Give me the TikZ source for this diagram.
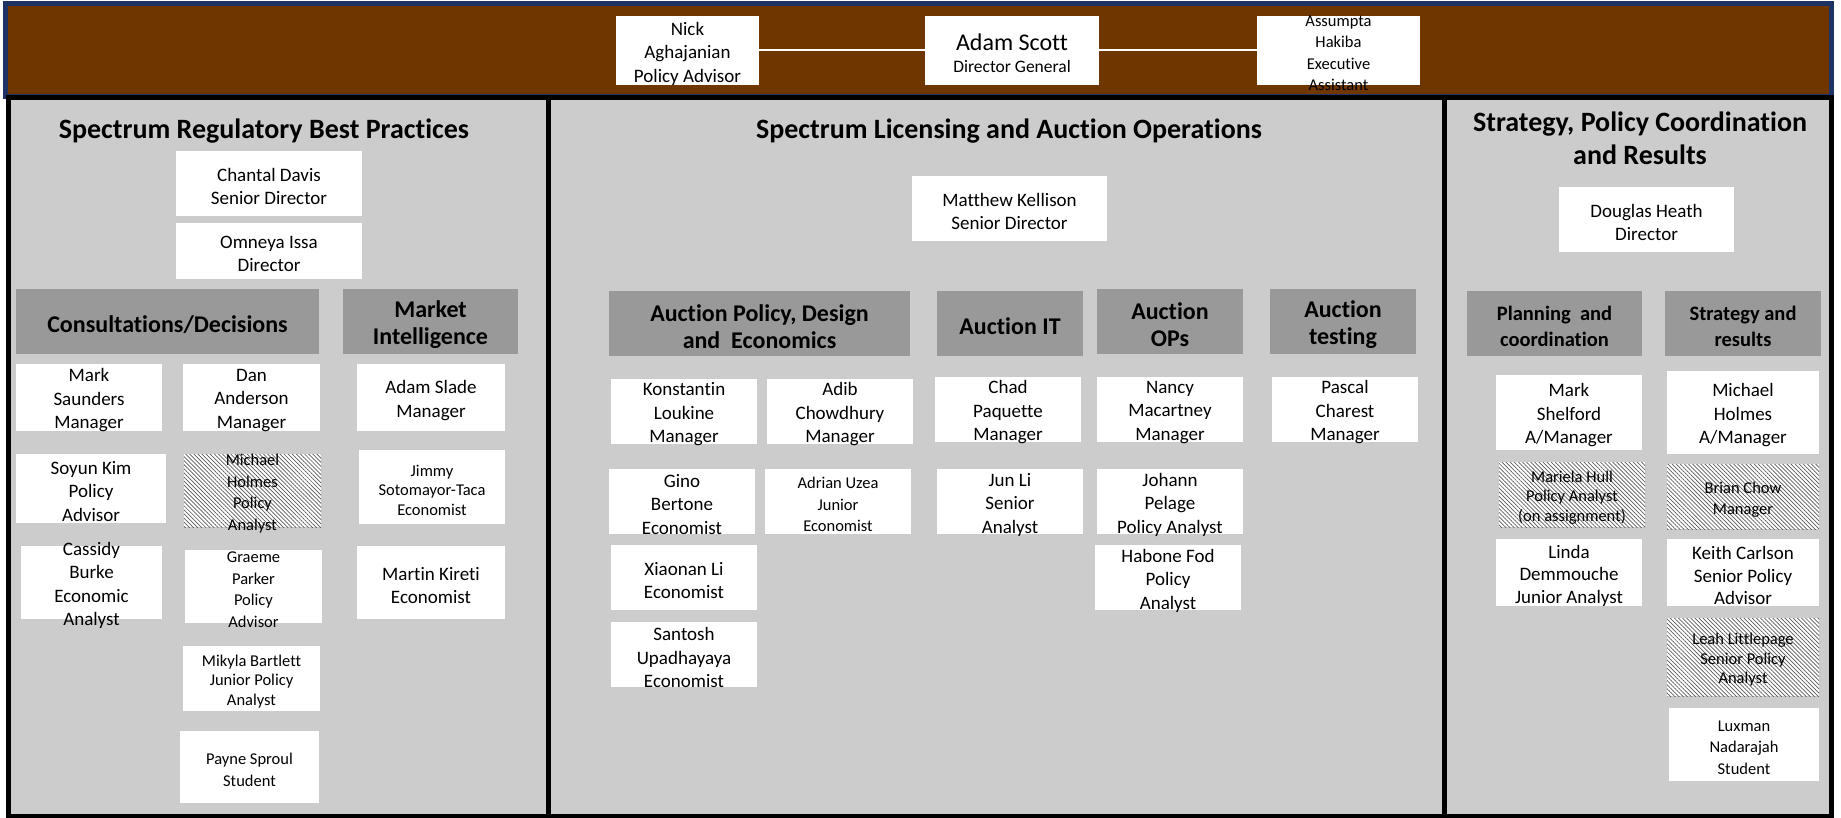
\documentclass[tikz,border=0pt]{standalone}
\usepackage{fontspec}
\setmainfont{Carlito}[Ligatures=CommonOff]
\usetikzlibrary{patterns.meta}
\definecolor{bandbrown}{RGB}{112,54,0}
\definecolor{bandnavy}{RGB}{31,50,100}
\definecolor{panelgray}{RGB}{204,204,204}
\definecolor{headgray}{RGB}{153,153,153}
\newcommand\pbx[8]{\node[#1, minimum width={#6-#4}, minimum height={#7-#5}, label={[#2]center:{#8}}] (#3) at ({(#4+#6)/2},{(#5+#7)/2}) {};}
\tikzset{
  pbox/.style={fill=white, draw=none, inner sep=0pt},
  hatch/.style={preaction={fill=white}, pattern={Lines[angle=-45,distance=2.9pt,line width=0.7pt]}, pattern color=black!65, draw=none, inner sep=0pt},
  hbox/.style={fill=headgray, draw=none, inner sep=0pt},
  tbase/.style={align=center, inner sep=0pt, yshift=-3pt},
  tn/.style={tbase, font=\fontsize{19}{23.5}\selectfont},
  tnc/.style={tbase, font=\fontsize{19}{22.5}\selectfont},
  ts/.style={tbase, font=\fontsize{16.5}{19.5}\selectfont},
  tsb/.style={tbase, font=\fontsize{16.5}{21.5}\selectfont},
  tadam/.style={tbase, font=\fontsize{24}{22}\selectfont},
  th/.style={tbase, font=\fontsize{24}{27}\selectfont\bfseries},
  thc/.style={tbase, font=\fontsize{20.5}{26}\selectfont\bfseries},
  ttl/.style={font=\fontsize{28}{33}\selectfont\bfseries, align=center, inner sep=0pt},
  conn/.style={draw=white, line width=2pt},
  frame/.style={draw=black, line width=5pt},
}
\begin{document}
\begin{tikzpicture}[x=1pt,y=-1pt]
\useasboundingbox (0,0) rectangle (1841,818);
% top band
\fill[bandbrown] (6,4) rectangle (1831,97);
\draw[bandnavy, line width=5pt] (5,4) rectangle (1831,97);
% panels
\fill[panelgray] (8.5,97.5) rectangle (1831,816.5);
\draw[frame] (8.5,97.5) rectangle (1831,816.5);
\draw[frame] (548.5,97.5) -- (548.5,816.5);
\draw[frame] (1444.5,97.5) -- (1444.5,816.5);

% top band boxes
\pbx{pbox}{tn}{nick}{616}{16}{759}{85}{Nick\\Aghajanian\\Policy Advisor}
\pbx{pbox}{tadam}{adam}{925}{16}{1099}{85}{Adam Scott\\{\fontsize{17.5}{22}\selectfont Director General}}
\pbx{pbox}{tsb}{assumpta}{1257}{16}{1420}{85}{Assumpta\\Hakiba\\Executive\\Assistant}
\draw[conn] (nick) -- (adam);
\draw[conn] (adam) -- (assumpta);

% panel 1
\node[ttl] (title1) at (264,131.5) {Spectrum Regulatory Best Practices};
\pbx{pbox}{tn}{chantal}{176}{151}{362}{216}{Chantal Davis\\Senior Director}
\pbx{pbox}{tn}{omneya}{176}{223}{362}{279}{Omneya Issa\\Director}
\pbx{hbox}{th}{consult}{16}{289}{319}{354}{Consultations/Decisions}
\pbx{hbox}{th}{market}{343}{289}{518}{354}{Market\\Intelligence}
\pbx{pbox}{tn}{msaunders}{16}{364}{162}{431}{Mark\\Saunders\\Manager}
\pbx{pbox}{tn}{danderson}{183}{364}{320}{431}{Dan\\Anderson\\Manager}
\pbx{pbox}{tn}{aslade}{357}{364}{505}{431}{Adam Slade\\Manager}
\pbx{pbox}{tn}{skim}{16}{454}{166}{523}{Soyun Kim\\Policy\\Advisor}
\pbx{hatch}{tsb}{mholmesA}{184}{454}{321}{527}{Michael\\Holmes\\Policy\\Analyst}
\pbx{pbox}{ts}{jimmy}{359}{450}{505}{524}{Jimmy\\Sotomayor-Taca\\Economist}
\pbx{pbox}{tn}{cassidy}{21}{546}{162}{619}{Cassidy\\Burke\\Economic\\Analyst}
\pbx{pbox}{tsb}{graeme}{185}{550}{322}{623}{Graeme\\Parker\\Policy\\Advisor}
\pbx{pbox}{tn}{mkireti}{357}{546}{505}{619}{Martin Kireti\\Economist}
\pbx{pbox}{ts}{mikyla}{183}{646}{320}{711}{Mikyla Bartlett\\Junior Policy\\Analyst}
\pbx{pbox}{tsb}{payne}{180}{731}{319}{803}{Payne Sproul\\Student}

% panel 2
\node[ttl] (title2) at (1009,131.5) {Spectrum Licensing and Auction Operations};
\pbx{pbox}{tn}{mkellison}{912}{176}{1107}{241}{Matthew Kellison\\Senior Director}
\pbx{hbox}{th}{apde}{609}{291}{910}{356}{Auction Policy, Design\\and~~Economics}
\pbx{hbox}{th}{ait}{937}{291}{1083}{356}{Auction IT}
\pbx{hbox}{th}{aops}{1097}{289}{1243}{354}{Auction\\OPs}
\pbx{hbox}{th}{atest}{1270}{289}{1416}{354}{Auction\\testing}
\pbx{pbox}{tn}{kloukine}{611}{379}{757}{444}{Konstantin\\Loukine\\Manager}
\pbx{pbox}{tn}{adib}{767}{379}{913}{444}{Adib\\Chowdhury\\Manager}
\pbx{pbox}{tn}{chad}{935}{377}{1081}{442}{Chad\\Paquette\\Manager}
\pbx{pbox}{tn}{nancy}{1097}{377}{1243}{442}{Nancy\\Macartney\\Manager}
\pbx{pbox}{tn}{pascal}{1272}{377}{1418}{442}{Pascal\\Charest\\Manager}
\pbx{pbox}{tn}{gino}{609}{469}{755}{534}{Gino\\Bertone\\Economist}
\pbx{pbox}{tsb}{adrian}{765}{469}{911}{534}{Adrian Uzea\\Junior\\Economist}
\pbx{pbox}{tn}{junli}{937}{469}{1083}{534}{Jun Li\\Senior\\Analyst}
\pbx{pbox}{tn}{johann}{1097}{469}{1243}{534}{Johann\\Pelage\\Policy Analyst}
\pbx{pbox}{tn}{xiaonan}{611}{545}{757}{610}{Xiaonan Li\\Economist}
\pbx{pbox}{tn}{habone}{1095}{545}{1241}{610}{Habone Fod\\Policy\\Analyst}
\pbx{pbox}{tn}{santosh}{611}{622}{757}{687}{Santosh\\Upadhayaya\\Economist}

% panel 3
\node[ttl] (title3) at (1640,138.5) {Strategy, Policy Coordination\\and Results};
\pbx{pbox}{tn}{dheath}{1559}{187}{1734}{252}{Douglas Heath\\Director}
\pbx{hbox}{thc}{planning}{1467}{291}{1642}{356}{Planning~~and\\coordination}
\pbx{hbox}{thc}{strategy}{1665}{291}{1821}{356}{Strategy and\\results}
\pbx{pbox}{tn}{mshelford}{1496}{375}{1642}{450}{Mark\\Shelford\\A/Manager}
\pbx{pbox}{tn}{mholmesB}{1667}{371}{1819}{454}{Michael\\Holmes\\A/Manager}
\pbx{hatch}{ts}{mariela}{1499}{462}{1645}{527}{Mariela Hull\\Policy Analyst\\(on assignment)}
\pbx{hatch}{tsb}{bchow}{1667}{464}{1819}{529}{Brian Chow\\Manager}
\pbx{pbox}{tnc}{linda}{1496}{539}{1642}{606}{Linda\\Demmouche\\Junior Analyst}
\pbx{pbox}{tnc}{keith}{1667}{539}{1819}{606}{Keith Carlson\\Senior Policy\\Advisor}
\pbx{hatch}{ts}{leah}{1667}{618}{1819}{696}{Leah Littlepage\\Senior Policy\\Analyst}
\pbx{pbox}{tsb}{luxman}{1669}{708}{1819}{781}{Luxman\\Nadarajah\\Student}
\end{tikzpicture}
\end{document}
